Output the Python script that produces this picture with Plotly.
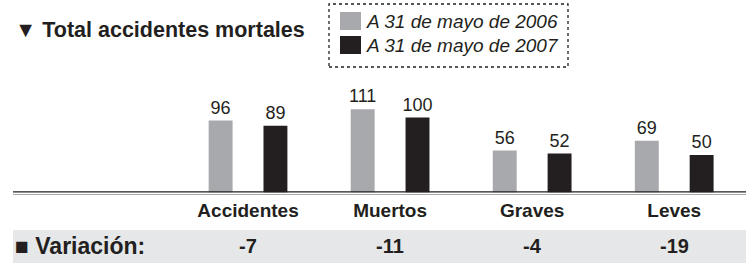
import plotly.graph_objects as go

# ---- data ----
categories = ["Accidentes", "Muertos", "Graves", "Leves"]
series_names = ["A 31 de mayo de 2006", "A 31 de mayo de 2007"]
values_2006 = [96, 111, 56, 69]
values_2007 = [89, 100, 52, 50]
variacion = ["-7", "-11", "-4", "-19"]
title_text = "▼ Total accidentes mortales"
variacion_label = "■ Variación:"
colors = ["#a7a9ac", "#231f20"]

W, H = 746, 267
FONT = "Liberation Sans, Arial, Helvetica, sans-serif"
DARK = "#231f20"


def px_x(p):
    return p / W


def px_y(p):
    return (H - p) / H


fig = go.Figure()
for name, vals, col in zip(series_names, [values_2006, values_2007], colors):
    fig.add_trace(go.Bar(
        x=categories, y=vals, name=name,
        marker=dict(color=col, line=dict(width=0)),
        text=vals, textposition="outside", constraintext="none",
        textfont=dict(family=FONT, size=18, color=DARK),
        cliponaxis=False, hoverinfo="skip",
    ))

baseline_px = 192.5
scale = 0.75  # px per unit
fig.update_layout(
    width=W, height=H,
    margin=dict(l=0, r=0, t=0, b=0),
    paper_bgcolor="white", plot_bgcolor="white",
    showlegend=False,
    barmode="group", bargap=0.228, bargroupgap=0.5636,
    xaxis=dict(domain=[px_x(177), px_x(745.25)], type="category",
               showgrid=False, zeroline=False, showline=False, ticks="",
               tickfont=dict(family=FONT, size=19, color=DARK),
               ticklabelstandoff=4),
    yaxis=dict(domain=[px_y(baseline_px), 1], range=[0, baseline_px / scale],
               visible=False, showgrid=False, zeroline=False),
)

shapes = []
# variation band
shapes.append(dict(type="rect", xref="paper", yref="paper",
                   x0=px_x(13), x1=1, y0=px_y(263), y1=px_y(230),
                   fillcolor="#e6e7e8", line=dict(width=0), layer="below"))
# baseline
shapes.append(dict(type="line", xref="paper", yref="paper",
                   x0=px_x(13), x1=1, y0=px_y(194.5), y1=px_y(194.5),
                   line=dict(color="#a7a9ac", width=1)))
shapes.append(dict(type="line", xref="paper", yref="y",
                   x0=px_x(13), x1=1, y0=0, y1=0,
                   line=dict(color=DARK, width=2.5)))
# legend box
shapes.append(dict(type="rect", xref="paper", yref="paper",
                   x0=px_x(329), x1=px_x(568), y0=px_y(67), y1=px_y(4),
                   line=dict(color=DARK, width=1.3, dash="dot"),
                   fillcolor="rgba(0,0,0,0)"))

annotations = []
for i, (name, col) in enumerate(zip(series_names, colors)):
    top = 12 + i * 24
    shapes.append(dict(type="rect", xref="paper", yref="paper",
                       x0=px_x(340), x1=px_x(361), y0=px_y(top + 18), y1=px_y(top),
                       fillcolor=col, line=dict(width=0)))
    annotations.append(dict(xref="paper", yref="paper", x=px_x(364), y=px_y(top + 9.5),
                            xanchor="left", yanchor="middle", showarrow=False,
                            text=f"<i>{name}</i>",
                            font=dict(family=FONT, size=19, color=DARK)))

annotations.append(dict(xref="paper", yref="paper", x=px_x(13), y=px_y(30),
                        xanchor="left", yanchor="middle", showarrow=False,
                        text=f"<b>{title_text}</b>",
                        font=dict(family=FONT, size=21.5, color=DARK)))
annotations.append(dict(xref="paper", yref="paper", x=px_x(13), y=px_y(246),
                        xanchor="left", yanchor="middle", showarrow=False,
                        text=f"<b>{variacion_label}</b>",
                        font=dict(family=FONT, size=23, color=DARK)))
for cat, v in zip(categories, variacion):
    annotations.append(dict(xref="x", yref="paper", x=cat, y=px_y(246),
                            xanchor="center", yanchor="middle", showarrow=False,
                            text=f"<b>{v}</b>",
                            font=dict(family=FONT, size=20, color=DARK)))

fig.update_layout(shapes=shapes, annotations=annotations)
fig.update_xaxes(tickvals=categories, ticktext=[f"<b>{c}</b>" for c in categories])

fig.write_html("out.html", config={"displayModeBar": False},
               post_script="document.body.style.margin='0px';")
